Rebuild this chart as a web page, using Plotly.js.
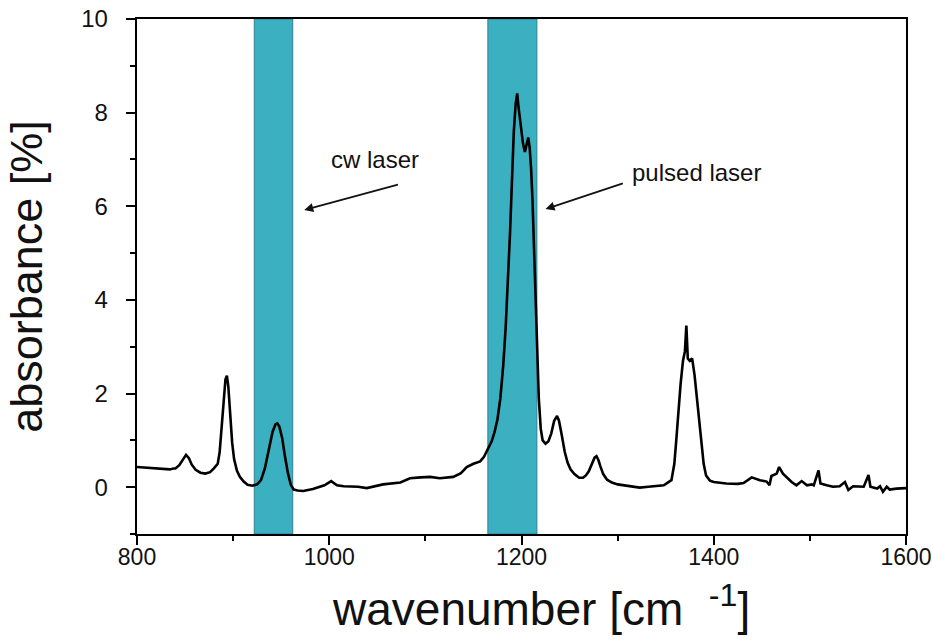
<!DOCTYPE html>
<html>
<head>
<meta charset="utf-8">
<script src="https://cdn.plot.ly/plotly-3.0.1.min.js"></script>
<style>html,body{margin:0;padding:0;background:#fff;}#chart{width:932px;height:641px;}</style>
</head>
<body>
<div id="chart"></div>
<script>
// wavenumber [cm^-1]
const wavenumber = [800,806,812,818,825,830,834,838,840,844,848,851,854,857,861,866,871,876,880,884,886,888,890,892,893.5,895,897,899,901,904,907,911,915,920,925,929,933,937,941,944,946,948,951,954,957,960,963,967,973,983,995,1002,1008,1015,1030,1039,1056,1074,1084,1095,1105,1115,1129,1137,1143,1150,1157,1161,1165,1169,1172,1175,1178,1181,1183.5,1186,1188,1190,1192,1194,1195.5,1197,1199,1201.5,1203.5,1205,1207,1208.5,1210,1211.5,1213,1214.5,1216,1218,1220,1222,1225,1228,1231,1234,1237,1239,1242,1245,1248,1251,1255,1260,1264,1267,1270,1273,1276,1278,1280,1282,1285,1289,1294,1300,1306,1315,1323,1332,1340,1348,1356,1359,1361,1363,1365.5,1368,1370,1371.5,1373,1375,1377.5,1380,1382,1384.5,1387,1389.5,1392,1396,1400,1413,1425,1431,1439.5,1448,1455,1458,1460,1465.5,1468,1472,1481,1486,1491.5,1497,1502,1504,1509,1511,1517.5,1524,1531,1536.5,1540,1545,1556,1561,1563,1570,1573,1576,1580,1583,1590,1600];
// absorbance [%]
const absorbance = [0.43,0.42,0.42,0.41,0.40,0.39,0.38,0.40,0.40,0.47,0.60,0.69,0.62,0.48,0.37,0.31,0.29,0.32,0.40,0.50,0.75,1.25,1.85,2.30,2.38,2.15,1.55,0.95,0.60,0.35,0.22,0.12,0.05,0.03,0.06,0.15,0.40,0.80,1.18,1.34,1.36,1.30,1.05,0.65,0.30,0.05,-0.05,-0.07,-0.08,-0.04,0.04,0.13,0.04,0.02,0.01,-0.02,0.06,0.10,0.19,0.21,0.22,0.19,0.22,0.30,0.43,0.50,0.55,0.65,0.80,0.98,1.18,1.45,1.9,2.6,3.4,4.4,5.4,6.5,7.6,8.2,8.41,8.1,7.7,7.35,7.16,7.3,7.47,7.25,6.8,6.1,5.1,4.0,3.0,1.9,1.25,1.0,0.93,0.98,1.15,1.42,1.52,1.42,1.10,0.75,0.52,0.38,0.28,0.20,0.20,0.25,0.34,0.50,0.63,0.66,0.58,0.45,0.28,0.16,0.10,0.06,0.04,0.01,-0.01,0.01,0.03,0.04,0.15,0.50,1.0,1.6,2.2,2.7,2.9,3.45,2.75,2.7,2.75,2.4,2.0,1.5,1.0,0.5,0.25,0.14,0.11,0.08,0.07,0.09,0.21,0.15,0.12,0.04,0.24,0.29,0.43,0.29,0.11,0.04,0.13,0.04,0.06,0.04,0.36,0.08,0.04,0.01,0.02,0.11,-0.06,0.02,0.01,0.26,0.01,-0.03,0.02,-0.10,0.01,-0.05,-0.03,-0.02];
// laser bands
const bandLabels = ["cw laser", "pulsed laser"];
const bandStart = [922, 1165];
const bandEnd = [962, 1216];
const xTicks = [800, 1000, 1200, 1400, 1600];
const yTicks = [0, 2, 4, 6, 8, 10];
const xTitle = "wavenumber [cm&nbsp;&nbsp;<sup>-1</sup>]";
const yTitle = "absorbance [%]";

const font = "Liberation Sans, Arial, Helvetica, sans-serif";

const shapes = bandStart.map((s, i) => ({
  type: "rect", xref: "x", yref: "paper", x0: s, x1: bandEnd[i], y0: 0, y1: 1,
  fillcolor: "#3bb0c1", line: {color: "#2f7f8e", width: 1}, layer: "below"
}));

const annotations = [
  {x: 1048, y: 7.0, xref: "x", yref: "y", text: bandLabels[0], showarrow: false, font: {family: font, size: 24, color: "#111"}},
  {x: 974, y: 5.92, ax: 1073, ay: 6.47, xref: "x", yref: "y", axref: "x", ayref: "y", text: "", showarrow: true, arrowhead: 2, arrowsize: 1, arrowwidth: 1.8, arrowcolor: "#111", standoff: 0, startstandoff: 0},
  {x: 1382, y: 6.73, xref: "x", yref: "y", text: bandLabels[1], showarrow: false, font: {family: font, size: 24, color: "#111"}},
  {x: 1225, y: 5.94, ax: 1307, ay: 6.50, xref: "x", yref: "y", axref: "x", ayref: "y", text: "", showarrow: true, arrowhead: 2, arrowsize: 1, arrowwidth: 1.8, arrowcolor: "#111", standoff: 0, startstandoff: 0},
  {x: 0.251, y: -0.139, xref: "paper", yref: "paper", xanchor: "left", yanchor: "middle", text: xTitle, showarrow: false, font: {family: font, size: 46, color: "#111"}}
];

const trace = {
  x: wavenumber, y: absorbance, type: "scatter", mode: "lines",
  line: {color: "#000", width: 2.6}, hoverinfo: "skip"
};

const layout = {
  width: 932, height: 641,
  margin: {l: 137, r: 26, t: 19, b: 107},
  paper_bgcolor: "#fff", plot_bgcolor: "#fff",
  showlegend: false,
  font: {family: font, color: "#111"},
  xaxis: {
    range: [800, 1600], tickvals: xTicks, ticktext: xTicks.map(String),
    ticks: "outside", ticklen: 9, tickwidth: 2, tickcolor: "#000",
    minor: {dtick: 100, tick0: 800, ticks: "outside", ticklen: 5, tickwidth: 2, tickcolor: "#000"},
    showline: true, linecolor: "#000", linewidth: 2, mirror: true,
    showgrid: false, zeroline: false,
    ticklabelstandoff: -8,
    ticklabeloverflow: "allow",
    tickfont: {family: font, size: 23, color: "#111"}
  },
  yaxis: {
    range: [-1, 10], tickvals: yTicks, ticktext: yTicks.map(v => v + "\u00a0\u00a0"),
    ticks: "outside", ticklen: 9, tickwidth: 2, tickcolor: "#000",
    minor: {dtick: 1, tick0: -1, ticks: "outside", ticklen: 5, tickwidth: 2, tickcolor: "#000"},
    showline: true, linecolor: "#000", linewidth: 2, mirror: true,
    showgrid: false, zeroline: false,
    tickfont: {family: font, size: 24, color: "#111"},
    title: {text: yTitle, font: {family: font, size: 45, color: "#111"}, standoff: 24}
  },
  shapes: shapes,
  annotations: annotations
};

Plotly.newPlot("chart", [trace], layout, {displayModeBar: false, staticPlot: true});
</script>
</body>
</html>
